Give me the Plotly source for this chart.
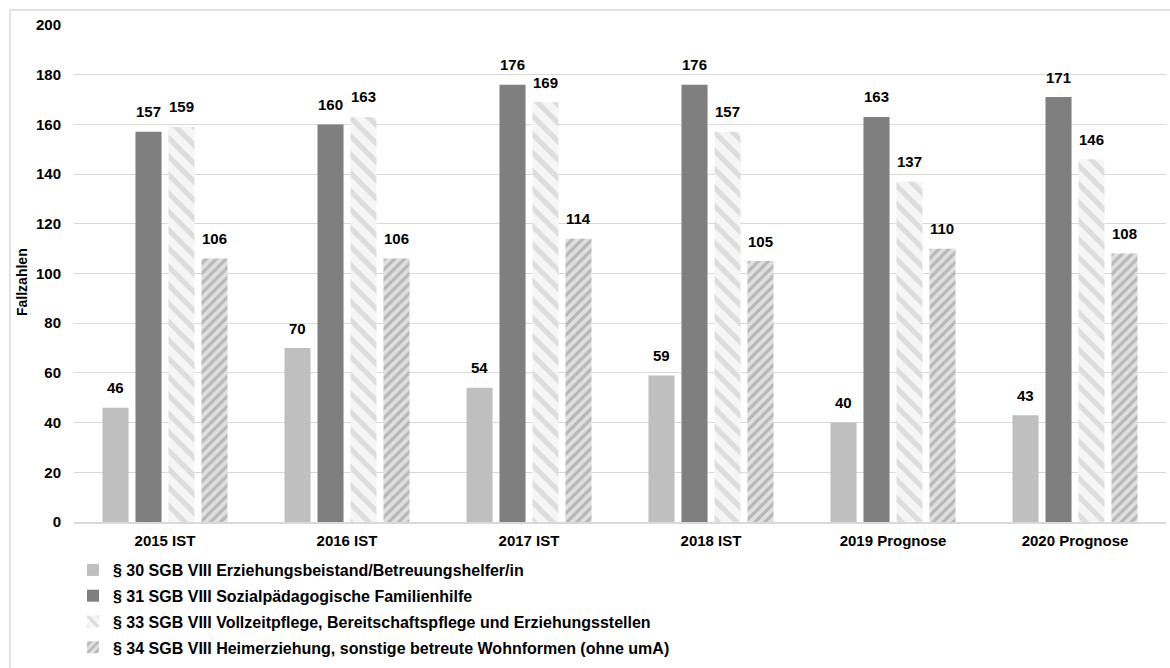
import plotly.graph_objects as go

# Kategorien (Jahre) und Fallzahlen je Hilfeart
jahre = ["2015 IST", "2016 IST", "2017 IST", "2018 IST", "2019 Prognose", "2020 Prognose"]
namen = [
    "§ 30 SGB VIII Erziehungsbeistand/Betreuungshelfer/in",
    "§ 31 SGB VIII Sozialpädagogische Familienhilfe",
    "§ 33 SGB VIII Vollzeitpflege, Bereitschaftspflege und Erziehungsstellen",
    "§ 34 SGB VIII Heimerziehung, sonstige betreute Wohnformen (ohne umA)",
]
par30 = [46, 70, 54, 59, 40, 43]
par31 = [157, 160, 176, 176, 163, 171]
par33 = [159, 163, 169, 157, 137, 146]
par34 = [106, 106, 114, 105, 110, 108]
y_ticks = [0, 20, 40, 60, 80, 100, 120, 140, 160, 180, 200]

FONT = "Liberation Sans, Arial, sans-serif"
W, H = 1170, 668
M_L, M_R, M_T, M_B = 74, 4, 25, 146
PLOT_W = W - M_L - M_R
PLOT_H = H - M_T - M_B
BARGAP = 0.275
SLOT = PLOT_W / len(jahre)
STEP = SLOT * (1 - BARGAP) / 4  # pixel width of one bar slot within a group

serien = [par30, par31, par33, par34]
styles = [
    dict(color="#bfbfbf"),
    dict(color="#7f7f7f"),
    dict(color="#ffffff",
         pattern=dict(shape="\\", fgcolor="#c4c4c4", bgcolor="#f6f6f6",
                      size=13, solidity=0.4)),
    dict(color="#e0e0e0",
         pattern=dict(shape="/", fgcolor="#8e8e8e", bgcolor="#e0e0e0",
                      size=7, solidity=0.45)),
]

fig = go.Figure()
for i, (werte, name, st) in enumerate(zip(serien, namen, styles)):
    fig.add_trace(go.Bar(
        x=jahre, y=werte, name=name,
        marker=dict(line=dict(width=0), **st),
        legendgroup=f"g{i}",
        hoverinfo="x+y",
    ))

# Wertebeschriftungen oberhalb der Balken
annotations = []
for i, werte in enumerate(serien):
    for kat, v in zip(jahre, werte):
        annotations.append(dict(
            x=kat, y=v, xref="x", yref="y",
            text=str(v), showarrow=False,
            xshift=(i - 1.5) * STEP, yshift=20,
            yanchor="middle", xanchor="center",
            font=dict(family=FONT, size=15, color="#000000", weight="bold"),
        ))

# Achsentitel
annotations.append(dict(
    x=(22 - M_L) / PLOT_W, y=(H - M_B - 282) / PLOT_H,
    xref="paper", yref="paper", text="Fallzahlen", textangle=-90,
    showarrow=False, xanchor="center", yanchor="middle",
    font=dict(family=FONT, size=14, color="#000000", weight="bold"),
))

fig.update_layout(
    width=W, height=H,
    margin=dict(l=M_L, r=M_R, t=M_T, b=M_B, autoexpand=False),
    paper_bgcolor="#ffffff", plot_bgcolor="#ffffff",
    barmode="group", bargap=BARGAP, bargroupgap=0.21,
    font=dict(family=FONT, color="#000000"),
    showlegend=True,
    legend=dict(
        orientation="v", x=(73 - M_L) / PLOT_W, xanchor="left",
        y=(H - M_B - 553) / PLOT_H, yanchor="top",
        font=dict(family=FONT, size=16, color="#000000", weight="bold"),
        tracegroupgap=2, bgcolor="rgba(0,0,0,0)", itemclick=False,
    ),
    annotations=annotations,
    shapes=[dict(
        type="rect", xref="paper", yref="paper",
        x0=(10 - M_L) / PLOT_W, x1=1.2,
        y0=-0.5, y1=(H - M_B - 10) / PLOT_H,
        line=dict(color="#d9d9d9", width=1.5), fillcolor="rgba(0,0,0,0)",
        layer="below",
    )],
)

fig.update_xaxes(
    type="category", showgrid=False, showline=True, linecolor="#d9d9d9",
    linewidth=1.5, ticks="", ticklabelstandoff=4,
    tickfont=dict(family=FONT, size=15, color="#000000", weight="bold"),
)
fig.update_yaxes(
    range=[0, 200], tickvals=y_ticks, showgrid=True, gridcolor="#d9d9d9",
    gridwidth=1.3, zeroline=False, showline=False, ticks="",
    ticklabelstandoff=12,
    tickfont=dict(family=FONT, size=15, color="#000000", weight="bold"),
)

fig.write_html("out.html")
